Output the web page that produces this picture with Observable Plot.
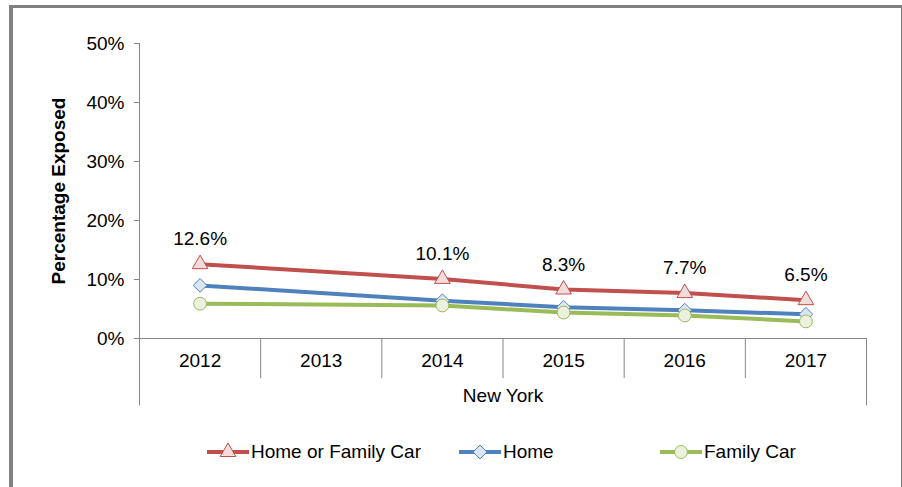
<!DOCTYPE html>
<html><head><meta charset="utf-8">
<script src="https://cdn.jsdelivr.net/npm/d3@7"></script>
<script src="https://cdn.jsdelivr.net/npm/@observablehq/plot@0.6"></script>
<style>
body{margin:0;background:#fff;font-family:Arial,"Liberation Sans",sans-serif;}
#wrap{position:relative;width:902px;height:487px;overflow:hidden;background:#fff;}
#frame{position:absolute;left:9px;top:5px;width:888px;height:500px;border-top:3px solid #808080;border-left:4px solid #808080;border-right:2px solid #808080;pointer-events:none;}
#chart{position:absolute;left:0;top:0;}
#legend{position:absolute;left:0;top:439px;width:902px;height:26px;}
.item{position:absolute;top:0;display:flex;align-items:center;height:26px;font-size:19px;color:#000;white-space:nowrap;}
.item span{margin-left:2px;}
</style></head>
<body><div id="wrap"><div id="chart"></div><div id="legend"></div><div id="frame"></div></div>
<script>
const years = ["2012","2013","2014","2015","2016","2017"];
const groupLabel = "New York";
const yLabel = "Percentage Exposed";
const seriesNames = ["Home or Family Car","Home","Family Car"];
const homeOrCar = [12.6,null,10.1,8.3,7.7,6.5];
const home = [9.0,null,6.4,5.3,4.8,4.1];
const familyCar = [5.9,null,5.6,4.4,3.9,2.9];
const yTicks = [0,10,20,30,40,50];

const seriesValues = [homeOrCar, home, familyCar];
const colors = ["#C0504D","#4F81BD","#9BBB59"];
const fills = ["#F2DCDB","#DCE6F2","#EBF1DE"];
const symbols = ["triangle","diamond2","circle"];
const radii = [5.8,6.2,6.4];

const rows = seriesValues.map((vals,s)=>vals.map((v,i)=>({series:seriesNames[s], idx:i+0.5, year:years[i], value:v})).filter(d=>d.value!=null));

const font = "Arial, 'Liberation Sans', sans-serif";
const axisGray = "#868686";
const fs = 19;

const marks = [
  Plot.ruleY([0], {stroke: axisGray}),
  Plot.ruleX([0], {stroke: axisGray}),
  Plot.axisY({ticks: yTicks, tickSize: 5, tickPadding: 10, tickFormat: d=>d+"%", label: null, stroke: axisGray, fill: "#000", fontSize: fs}),
  Plot.ruleX(d3.range(1, years.length), {y1: 0, y2: -6.8, stroke: axisGray}),
  Plot.ruleX([0, years.length], {y1: 0, y2: -11.4, stroke: axisGray}),
  Plot.text(years, {x: (d,i)=>i+0.5, y: 0, dy: 22, fill: "#000", fontSize: fs}),
  Plot.text([groupLabel], {frameAnchor: "bottom", lineAnchor: "middle", dy: 57, fill: "#000", fontSize: fs}),
  Plot.text([yLabel], {frameAnchor: "left", textAnchor: "middle", lineAnchor: "middle", rotate: -90, dx: -81, fill: "#000", fontSize: fs, fontWeight: "bold"})
];
rows.forEach((r,s)=>{
  marks.push(Plot.line(r, {x: "idx", y: "value", stroke: colors[s], strokeWidth: 4}));
  marks.push(Plot.dot(r, {x: "idx", y: "value", symbol: symbols[s], r: radii[s], fill: fills[s], stroke: colors[s], strokeWidth: 1, fillOpacity: 1}));
});
marks.push(Plot.text(rows[0], {x: "idx", y: "value", text: d=>d.value.toFixed(1)+"%", dy: -25, fill: "#000", fontSize: fs}));

const chart = Plot.plot({
  width: 902, height: 420,
  marginLeft: 139, marginRight: 36, marginTop: 43, marginBottom: 82,
  style: {fontFamily: font, fontSize: fs + "px", color: "#000", background: "transparent"},
  x: {type: "linear", domain: [0, years.length], axis: null},
  y: {domain: [0, 50], axis: null},
  marks
});
document.getElementById("chart").appendChild(chart);

// legend
const legend = document.getElementById("legend");
const lefts = [207, 459, 660];
seriesNames.forEach((name,s)=>{
  const item = document.createElement("div");
  item.className = "item";
  item.style.left = lefts[s] + "px";
  const ns = "http://www.w3.org/2000/svg";
  const svg = document.createElementNS(ns, "svg");
  svg.setAttribute("width", 42); svg.setAttribute("height", 18);
  const line = document.createElementNS(ns, "line");
  line.setAttribute("x1", 0); line.setAttribute("x2", 42); line.setAttribute("y1", 9); line.setAttribute("y2", 9);
  line.setAttribute("stroke", colors[s]); line.setAttribute("stroke-width", 4);
  svg.appendChild(line);
  const symMap = {triangle: d3.symbolTriangle, diamond2: d3.symbolDiamond2 || d3.symbolDiamond, circle: d3.symbolCircle};
  const p = document.createElementNS(ns, "path");
  p.setAttribute("d", d3.symbol(symMap[symbols[s]], Math.PI*radii[s]*radii[s])());
  p.setAttribute("transform", "translate(21,9)");
  p.setAttribute("fill", fills[s]); p.setAttribute("stroke", colors[s]);
  svg.appendChild(p);
  item.appendChild(svg);
  const t = document.createElement("span");
  t.textContent = name;
  item.appendChild(t);
  legend.appendChild(item);
});
</script>
</body></html>
